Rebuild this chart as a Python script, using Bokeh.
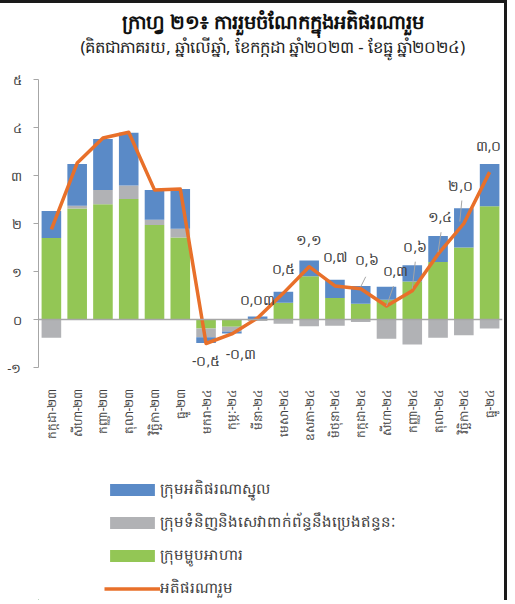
import math
import numpy as np
from bokeh.plotting import figure
from bokeh.layouts import column
from bokeh.models import (FactorRange, Range1d, ColumnDataSource, Span, Legend, LegendItem,
                          FixedTicker)
from bokeh.transform import dodge
from bokeh.core.properties import value
from bokeh.embed import file_html
from bokeh.resources import INLINE

# ---------------- data ----------------
months = ["កក្កដា-២៣", "សីហា-២៣", "កញ្ញា-២៣", "តុលា-២៣", "វិច្ឆិកា-២៣", "ធ្នូ-២៣",
          "មករា-២៤", "កុម្ភៈ-២៤", "មីនា-២៤", "មេសា-២៤", "ឧសភា-២៤", "មិថុនា-២៤",
          "កក្កដា-២៤", "សីហា-២៤", "កញ្ញា-២៤", "តុលា-២៤", "វិច្ឆិកា-២៤", "ធ្នូ-២៤"]
food = [1.70, 2.31, 2.40, 2.51, 1.97, 1.71, -0.19, -0.15, 0.01, 0.35, 0.90, 0.45,
        0.33, 0.41, 0.79, 1.20, 1.50, 2.36]
energy = [-0.38, 0.06, 0.30, 0.28, 0.11, 0.18, -0.18, -0.10, -0.03, -0.09, -0.14, -0.13,
          -0.05, -0.40, -0.52, -0.38, -0.33, -0.19]
core = [0.56, 0.87, 1.06, 1.10, 0.62, 0.83, -0.12, -0.04, 0.05, 0.23, 0.33, 0.38,
        0.37, 0.27, 0.34, 0.54, 0.82, 0.88]
headline = [1.88, 3.26, 3.78, 3.90, 2.70, 2.72, -0.50, -0.30, 0.03, 0.55, 1.10, 0.70,
            0.64, 0.28, 0.60, 1.36, 2.00, 3.07]
label_months = months[6:]
label_texts = ["-០,៥", "-០,៣", "០,០៣", "០,៥", "១,១", "០,៧", "០,៦", "០,៣", "០,៦", "១,៤", "២,០", "៣,០"]
y_ticks = [-1, 0, 1, 2, 3, 4, 5]
y_tick_labels = ["-១", "០", "១", "២", "៣", "៤", "៥"]

series_names = ["ក្រុមអតិផរណាស្នូល", "ក្រុមទំនិញនិងសេវាពាក់ព័ន្ធនឹងប្រេងឥន្ធនៈ", "ក្រុមម្ហូបអាហារ"]
line_name = "អតិផរណារួម"
title_text = "ក្រាហ្វ ២១៖ ការរួមចំណែកក្នុងអតិផរណារួម"
subtitle_text = "(គិតជាភាគរយ, ឆ្នាំលើឆ្នាំ, ខែកក្កដា ឆ្នាំ២០២៣ - ខែធ្នូ ឆ្នាំ២០២៤)"

# ---------------- styles ----------------
C_CORE = "#5A8AC7"
C_ENERGY = "#B1B2B5"
C_FOOD = "#93C655"
C_LINE = "#E8702A"
C_LEADER = "#A6A6A6"
TXT = "#404040"
FONT = "Noto Sans"
W = 504

# data-label offsets in screen px (dx, dy; +dy = down)
lab_dx = [0, 9, 0, 0, 0, 0, 6, 9, 3, 2, -3, -1]
lab_dy = [17, 20, -19, -25, -27, -29, -29, -36, -44, -38, -38, -27]
# leader lines: month index, start (dx, dy) and end (dx, dy) in px from the point
leaders = [(12, 0, -2, 5, -12), (13, 0, 0, 7, -20), (14, 0, -2, 3, -29),
           (15, 0, -2, 3, -22), (16, -4, -2, -2, -23)]
PX_PER_CAT = 25.8
PX_PER_UNIT = 48.0

# ---------------- title panel ----------------
T_H = 63
t = figure(width=W, height=T_H, x_range=Range1d(0, W), y_range=Range1d(0, T_H),
           x_axis_type=None, y_axis_type=None,
           output_backend="svg", toolbar_location=None, min_border=0)
t.grid.visible = False
t.outline_line_color = None
t.text(x=[255], y=[T_H - 18], text=[title_text], text_align="center", text_baseline="middle",
       text_font=value(FONT), text_font_size="19.5px", text_font_style="bold", text_color="#111111")
t.text(x=[254.5], y=[T_H - 43], text=[subtitle_text], text_align="center", text_baseline="middle",
       text_font=value(FONT), text_font_size="16.5px", text_color="#222222")

# ---------------- stacking ----------------
vals = [np.array(food), np.array(energy), np.array(core)]
pos = np.zeros(len(months))
neg = np.zeros(len(months))
bottoms, tops = [], []
for v in vals:
    b = np.where(v >= 0, pos, neg + v)
    tp = np.where(v >= 0, pos + v, neg)
    pos = np.where(v >= 0, pos + v, pos)
    neg = np.where(v < 0, neg + v, neg)
    bottoms.append(b)
    tops.append(tp)

p = figure(frame_width=464, frame_height=288, x_range=FactorRange(*months, range_padding=0),
           y_range=Range1d(-1, 5), output_backend="svg", toolbar_location=None,
           min_border_left=38, min_border_right=2, min_border_top=13, min_border_bottom=89)
p.outline_line_color = None
p.grid.visible = False

colors = [C_FOOD, C_ENERGY, C_CORE]
for b, tp, c in zip(bottoms, tops, colors):
    src = ColumnDataSource(dict(x=months, bottom=b, top=tp))
    p.vbar(x="x", bottom="bottom", top="top", width=0.76, source=src,
           fill_color=c, line_color=None)

p.add_layout(Span(location=0, dimension="width", line_color="#A6A6A6", line_width=1.5))

lsrc = ColumnDataSource(dict(x=months, y=headline))
p.line(x="x", y="y", source=lsrc, line_color=C_LINE, line_width=3.5, line_join="round")

for (i, dx0, dy0, dx1, dy1) in leaders:
    s = ColumnDataSource(dict(x=[months[i]], y0=[headline[i] - dy0 / PX_PER_UNIT],
                              y1=[headline[i] - dy1 / PX_PER_UNIT]))
    p.segment(x0=dodge("x", dx0 / PX_PER_CAT, range=p.x_range), y0="y0",
              x1=dodge("x", dx1 / PX_PER_CAT, range=p.x_range), y1="y1",
              source=s, line_color=C_LEADER, line_width=1)

tsrc = ColumnDataSource(dict(x=label_months, y=headline[6:], text=label_texts, dx=lab_dx, dy=lab_dy))
p.text(x="x", y="y", text="text", source=tsrc, x_offset="dx", y_offset="dy",
       text_align="center", text_baseline="middle", text_font=value(FONT),
       text_font_size="14px", text_color=TXT)

# axes
p.yaxis.ticker = FixedTicker(ticks=y_ticks)
p.yaxis.major_label_overrides = {tk: l for tk, l in zip(y_ticks, y_tick_labels)}
p.yaxis.axis_line_color = "#A6A6A6"
p.yaxis.major_tick_line_color = "#A6A6A6"
p.yaxis.major_tick_out = 5
p.yaxis.major_tick_in = 0
p.yaxis.minor_tick_line_color = None
p.yaxis.major_label_text_font = FONT
p.yaxis.major_label_text_font_size = "13px"
p.yaxis.major_label_text_color = TXT
p.yaxis.major_label_standoff = 12

p.xaxis.axis_line_color = None
p.xaxis.major_tick_line_color = None
p.xaxis.major_label_orientation = math.pi / 2
p.xaxis.major_label_standoff = 15
p.xaxis.major_label_text_font = FONT
p.xaxis.major_label_text_font_size = "12px"
p.xaxis.major_label_text_color = TXT

# ---------------- legend panel ----------------
Q_H = 144
q = figure(width=W, height=Q_H, x_range=Range1d(0, W), y_range=Range1d(0, Q_H),
           x_axis_type=None, y_axis_type=None,
           output_backend="svg", toolbar_location=None, min_border=0)
q.grid.visible = False
q.outline_line_color = None
dummy = ColumnDataSource(dict(x=[-200, -190], top=[1, 1], y=[1, 1]))
r_core = q.vbar(x="x", top="top", width=1, source=dummy, fill_color=C_CORE, line_color=None)
r_energy = q.vbar(x="x", top="top", width=1, source=dummy, fill_color=C_ENERGY, line_color=None)
r_food = q.vbar(x="x", top="top", width=1, source=dummy, fill_color=C_FOOD, line_color=None)
r_line = q.line(x="x", y="y", source=dummy, line_color=C_LINE, line_width=3.5)
legend = Legend(items=[LegendItem(label=series_names[0], renderers=[r_core]),
                       LegendItem(label=series_names[1], renderers=[r_energy]),
                       LegendItem(label=series_names[2], renderers=[r_food]),
                       LegendItem(label=line_name, renderers=[r_line])],
                location=(66, 0), orientation="vertical", border_line_color=None,
                background_fill_alpha=0, glyph_width=56, glyph_height=15,
                label_height=20, spacing=10, padding=0, margin=0,
                label_text_font=FONT, label_text_font_size="15px", label_text_color=TXT,
                label_standoff=0)
q.add_layout(legend, "center")

layout = column(t, p, q, spacing=0,
                styles={"border-top": "3px solid #1a1a1a", "border-right": "3px solid #1a1a1a"})
open("out.html", "w").write(file_html(layout, INLINE))
